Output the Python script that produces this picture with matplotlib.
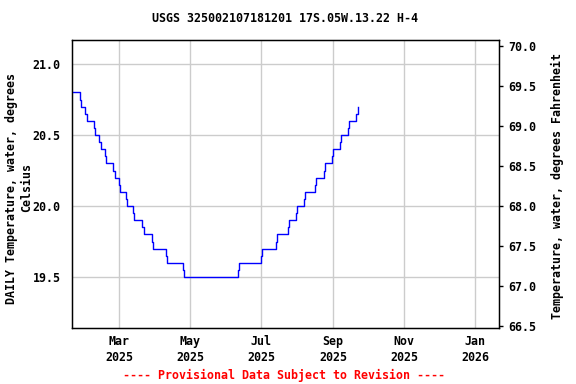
import matplotlib
matplotlib.use("Agg")
import matplotlib.pyplot as plt
import pandas as pd

TITLE = "USGS 325002107181201 17S.05W.13.22 H-4"
YLABEL_LEFT = "DAILY Temperature, water, degrees\nCelsius"
YLABEL_RIGHT = "Temperature, water, degrees Fahrenheit"
FOOTER = "---- Provisional Data Subject to Revision ----"

# step change dates and daily mean temperature (deg C)
dates = [
    "2025-01-19", "2025-01-26", "2025-01-27", "2025-01-31", "2025-02-01",
    "2025-02-07", "2025-02-08", "2025-02-12", "2025-02-13", "2025-02-17",
    "2025-02-18", "2025-02-24", "2025-02-25", "2025-03-01", "2025-03-02",
    "2025-03-07", "2025-03-08", "2025-03-13", "2025-03-14", "2025-03-21",
    "2025-03-22", "2025-03-29", "2025-03-30", "2025-04-10", "2025-04-11",
    "2025-04-25", "2025-04-26", "2025-06-11", "2025-06-12", "2025-07-01",
    "2025-07-02", "2025-07-14", "2025-07-15", "2025-07-24", "2025-07-25",
    "2025-07-31", "2025-08-01", "2025-08-07", "2025-08-08", "2025-08-16",
    "2025-08-17", "2025-08-24", "2025-08-25", "2025-08-31", "2025-09-01",
    "2025-09-07", "2025-09-08", "2025-09-14", "2025-09-15", "2025-09-21",
    "2025-09-22",
]
temps_c = [
    20.8, 20.75, 20.7, 20.65, 20.6,
    20.55, 20.5, 20.45, 20.4, 20.35,
    20.3, 20.25, 20.2, 20.15, 20.1,
    20.05, 20.0, 19.95, 19.9, 19.85,
    19.8, 19.75, 19.7, 19.65, 19.6,
    19.55, 19.5, 19.55, 19.6, 19.65,
    19.7, 19.75, 19.8, 19.85, 19.9,
    19.95, 20.0, 20.05, 20.1, 20.15,
    20.2, 20.25, 20.3, 20.35, 20.4,
    20.45, 20.5, 20.55, 20.6, 20.65,
    20.7,
]

x_ticks = ["2025-03-01", "2025-05-01", "2025-07-01", "2025-09-01", "2025-11-01", "2026-01-01"]
x_ticklabels = ["Mar\n2025", "May\n2025", "Jul\n2025", "Sep\n2025", "Nov\n2025", "Jan\n2026"]
y_ticks_c = [19.5, 20.0, 20.5, 21.0]
y_ticks_f = [66.5, 67.0, 67.5, 68.0, 68.5, 69.0, 69.5, 70.0]

X_RANGE = ("2025-01-19", "2026-01-21 14:00")
Y_RANGE = (19.141, 21.169)
Y_RANGE_F = (66.48, 70.07)

FONT = "DejaVu Sans Mono"
FS = 8.4


def main() -> None:
    fig = plt.figure(figsize=(5.76, 3.84), dpi=100)
    ax = fig.add_axes([71.5 / 576, 1 - 328 / 384, 427.5 / 576, 288 / 384])

    x = pd.to_datetime(dates)
    ax.plot(x, temps_c, drawstyle="steps-post", color="#0000ff", linewidth=1.0, zorder=3)

    ax.set_xlim(pd.Timestamp(X_RANGE[0]), pd.Timestamp(X_RANGE[1]))
    ax.set_ylim(*Y_RANGE)

    ax.set_xticks(pd.to_datetime(x_ticks))
    ax.set_xticklabels(x_ticklabels, fontfamily=FONT, fontweight="bold", fontsize=FS,
                       linespacing=1.3)
    ax.set_yticks(y_ticks_c)
    ax.set_yticklabels([f"{v:.1f}" for v in y_ticks_c], fontfamily=FONT,
                       fontweight="bold", fontsize=FS)
    ax.tick_params(axis="both", length=0)
    ax.tick_params(axis="y", pad=8)
    ax.tick_params(axis="x", pad=5)
    ax.grid(True, color="#cccccc", linewidth=1.0)
    ax.set_axisbelow(True)
    for sp in ax.spines.values():
        sp.set_linewidth(1.0)
        sp.set_color("black")

    # right axis in Fahrenheit
    ax2 = ax.twinx()
    ax2.set_ylim(*Y_RANGE_F)
    ax2.set_yticks(y_ticks_f)
    ax2.set_yticklabels([f"{v:.1f}" for v in y_ticks_f], fontfamily=FONT,
                        fontweight="bold", fontsize=FS)
    ax2.tick_params(axis="y", length=3, width=1, pad=4, direction="out")

    fig.text(19 / 576, 1 - 188 / 384, YLABEL_LEFT, rotation=90, ha="center",
             va="center", multialignment="center", fontfamily=FONT,
             fontweight="bold", fontsize=FS, linespacing=1.15)
    fig.text(557 / 576, 1 - 186 / 384, YLABEL_RIGHT, rotation=90, ha="center",
             va="center", fontfamily=FONT, fontweight="bold", fontsize=FS)
    fig.text(285 / 576, 1 - 19 / 384, TITLE, ha="center", va="center",
             fontfamily=FONT, fontweight="bold", fontsize=FS)
    fig.text(284 / 576, 1 - 375 / 384, FOOTER, ha="center", va="center",
             fontfamily=FONT, fontweight="bold", fontsize=FS, color="#ff0000")

    fig.savefig("out.png", dpi=100)
    plt.close(fig)


if __name__ == "__main__":
    main()
